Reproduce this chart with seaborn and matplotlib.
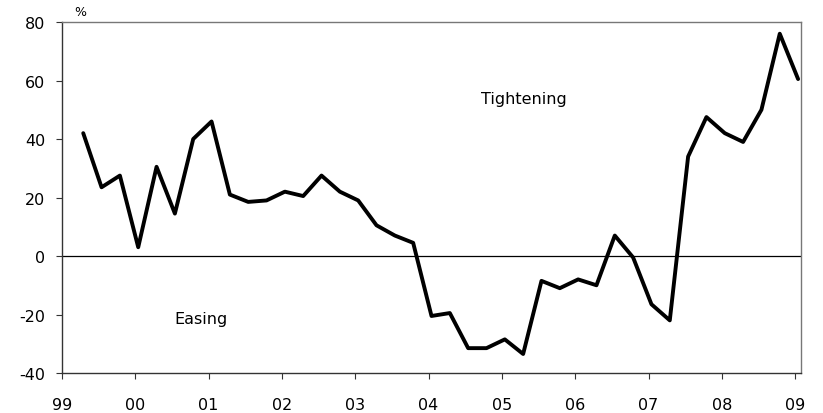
# net share of banks tightening credit standards, quarterly

import pandas as pd
import seaborn as sns
import matplotlib.pyplot as plt

years = [1999] * 3 + [y for y in range(2000, 2009) for _ in range(4)] + [2009]
quarters = [2, 3, 4] + [1, 2, 3, 4] * 9 + [1]
net_pct = [42, 23.5, 27.5, 3, 30.5, 14.5, 40, 46,
           21, 18.5, 19, 22, 20.5, 27.5, 22, 19,
           10.5, 7, 4.5, -20.5, -19.5, -31.5, -31.5, -28.5,
           -33.5, -8.5, -11, -8, -10, 7, -0.5, -16.5,
           -22, 34, 47.5, 42, 39, 50, 76, 60.5]
tick_labels = ["99", "00", "01", "02", "03", "04", "05", "06", "07", "08", "09"]


def main():
    df = pd.DataFrame({"year": years, "quarter": quarters, "value": net_pct})
    df["x"] = df["year"] + (df["quarter"] - 1) * 0.25 + 0.04

    sns.set_style("ticks")
    plt.rcParams["font.family"] = ["DejaVu Sans"]
    plt.rcParams["axes.unicode_minus"] = False
    plt.rcParams["text.color"] = "black"

    fig = plt.figure(figsize=(8.23, 4.14), dpi=100)
    ax = fig.add_axes([0.0753, 0.0966, 0.898, 0.8478])

    sns.lineplot(data=df, x="x", y="value", color="black", linewidth=2.8, ax=ax)
    ax.axhline(0, color="black", linewidth=0.9)

    ax.set_xlim(1999, 2009.08)
    ax.set_ylim(-40, 80)
    ax.set_xticks(range(1999, 2010))
    ax.set_xticklabels(tick_labels)
    ax.set_yticks(range(-40, 81, 20))
    ax.set_xlabel("")
    ax.set_ylabel("")

    for side in ["left", "bottom"]:
        ax.spines[side].set_color("#333333")
        ax.spines[side].set_linewidth(1.0)
    for side in ["top", "right"]:
        ax.spines[side].set_visible(True)
        ax.spines[side].set_color("#777777")
        ax.spines[side].set_linewidth(1.0)

    ax.tick_params(axis="x", length=4, pad=13, labelsize=11.5, color="#333333", labelcolor="black")
    ax.tick_params(axis="y", length=4, pad=8, labelsize=11.5, color="#333333", labelcolor="black")

    fig.text(80 / 823, 1 - 12 / 414, "%", fontsize=9, ha="center", va="center")
    ax.text(2005.3, 54, "Tightening", fontsize=11.5, ha="center", va="center")
    ax.text(2000.9, -21.5, "Easing", fontsize=11.5, ha="center", va="center")

    fig.savefig("out.png", dpi=100)


if __name__ == "__main__":
    main()
